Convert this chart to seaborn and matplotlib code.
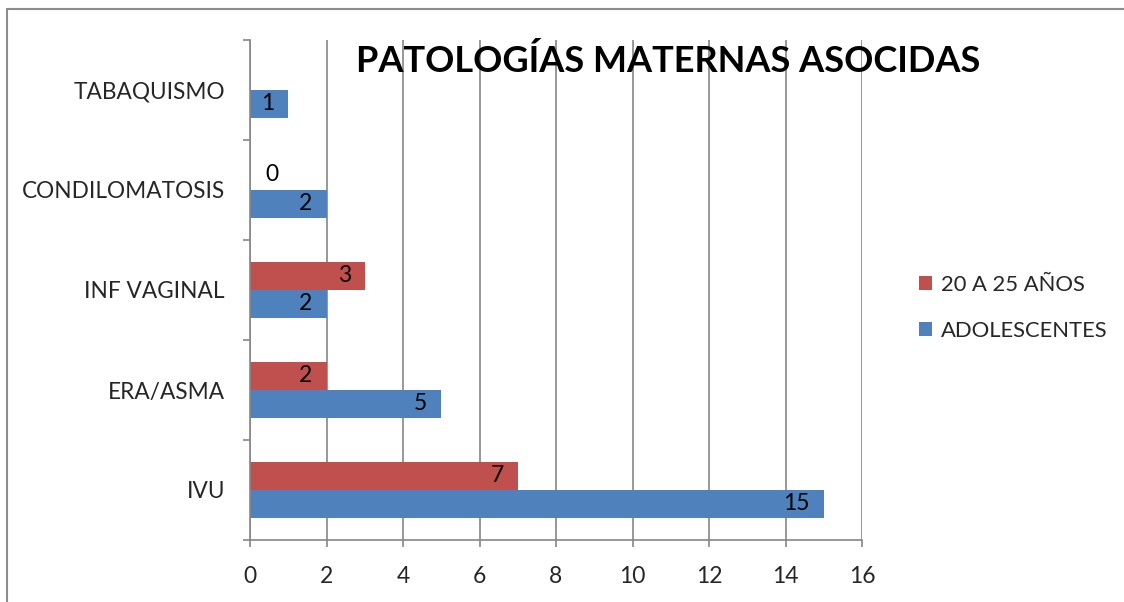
import matplotlib
matplotlib.use("Agg")
import matplotlib.pyplot as plt
import seaborn as sns
import pandas as pd
import numpy as np
from matplotlib.patches import Rectangle

categories = ["TABAQUISMO", "CONDILOMATOSIS", "INF VAGINAL", "ERA/ASMA", "IVU"]
series_names = ["20 A 25 AÑOS", "ADOLESCENTES"]
valores_20_25 = [np.nan, 0, 3, 2, 7]
valores_adolescentes = [1, 2, 2, 5, 15]
x_ticks = [0, 2, 4, 6, 8, 10, 12, 14, 16]
title = "PATOLOGÍAS MATERNAS ASOCIDAS"

colors = ["#C0504D", "#4F81BD"]
grid_c = "#868686"

df = pd.DataFrame({
    "cat": categories * 2,
    "grupo": [series_names[0]] * len(categories) + [series_names[1]] * len(categories),
    "valor": valores_20_25 + valores_adolescentes,
})

sns.set_style("white")
plt.rcParams["font.family"] = ["Lato", "DejaVu Sans"]

fig = plt.figure(figsize=(11.24, 6.02), dpi=100)
ax = fig.add_axes([250 / 1124, 1 - 540 / 602, 612 / 1124, 500 / 602])

sns.barplot(data=df, y="cat", x="valor", hue="grupo", order=categories,
            hue_order=series_names, palette=colors, orient="h", width=0.56,
            dodge=True, errorbar=None, saturation=1, ax=ax, linewidth=0)

ax.set_xlim(0, 16)
ax.set_xticks(x_ticks)
ax.set_xticklabels([str(t) for t in x_ticks], fontsize=16.5)
ax.set_xlabel("")
ax.set_ylabel("")
ax.set_ylim(len(categories) - 0.5, -0.5)
ax.set_yticks(np.arange(len(categories)))
ax.set_yticklabels(categories, fontsize=16.3)
ax.tick_params(axis="y", length=0, pad=18)
ax.tick_params(axis="x", length=5, width=1.2, color=grid_c, pad=14, direction="out")
# boundary ticks on y axis
ax.set_yticks(np.arange(len(categories) + 1) - 0.5, minor=True)
ax.tick_params(axis="y", which="minor", length=5, width=1.2, color=grid_c, direction="out", left=True)
ax.tick_params(axis="x", bottom=True)

ax.grid(axis="x", color=grid_c, linewidth=1.2)
ax.set_axisbelow(True)
for s in ["top", "right"]:
    ax.spines[s].set_visible(False)
for s in ["left", "bottom"]:
    ax.spines[s].set_color(grid_c)
    ax.spines[s].set_linewidth(1.2)

# data labels
for cont in ax.containers:
    for p in cont.patches:
        w = p.get_width()
        if np.isnan(w):
            continue
        yc = p.get_y() + p.get_height() / 2
        if w == 0:
            ax.annotate(f"{w:g}", xy=(w, yc), xytext=(11, 1), textcoords="offset points",
                        ha="left", va="center", fontsize=16.5, color="black")
        else:
            ax.annotate(f"{w:g}", xy=(w, yc), xytext=(-10, 0), textcoords="offset points",
                        ha="right", va="center", fontsize=16.5, color="black")

fig.text(668 / 1124, 1 - 61 / 602, title, ha="center", va="center",
         fontsize=26, fontweight="bold", color="black")

handles, labels = ax.get_legend_handles_labels()
ax.legend(handles, labels, loc="center left", bbox_to_anchor=(919 / 1124, 1 - 308 / 602),
          bbox_transform=fig.transFigure, frameon=False, fontsize=15.8,
          borderpad=0, borderaxespad=0,
          handlelength=0.6, handleheight=0.6, handletextpad=0.4, labelspacing=1.2)

# outer frame
fig.patches.append(Rectangle((7 / 1124, -0.1), 1.2, 1 - 9 / 602 + 0.1, transform=fig.transFigure,
                             fill=False, edgecolor="#8C8C8C", linewidth=1.5, clip_on=False))

fig.savefig("out.png", dpi=100)
